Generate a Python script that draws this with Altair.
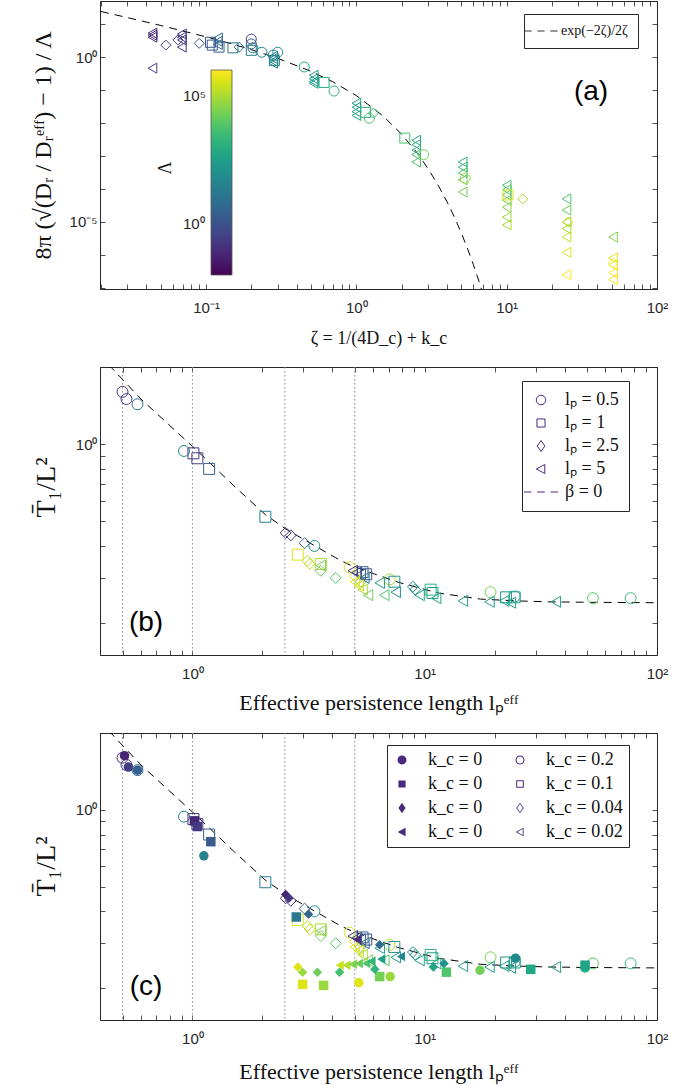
import altair as alt
import pandas as pd

# ---------------- Panel (a): rescaled rotational diffusion vs zeta ----------------
a_zeta = [0.044, 0.044, 0.044, 0.044, 0.054, 0.069, 0.069, 0.069, 0.069, 0.065,
          0.09, 0.107, 0.110, 0.12, 0.12, 0.12, 0.122, 0.151, 0.166, 0.20,
          0.20, 0.205, 0.20, 0.235, 0.30, 0.28, 0.28, 0.28, 0.28, 0.28,
          0.285, 0.45, 0.52, 0.52, 0.52, 0.52, 0.61, 0.71, 1.0, 1.0,
          1.0, 1.0, 1.15, 1.22, 1.3, 2.1, 2.5, 2.5, 2.5, 2.5,
          2.5, 2.8, 5.1, 5.1, 5.1, 5.1, 5.1, 5.3, 10, 10,
          10, 10, 10, 10, 10, 10.2, 12.8, 25, 25, 25,
          25, 25, 25, 25, 25.5, 51, 51, 51, 51, 51, 51]
a_value = [5.3, 4.6, 4.0, 0.46, 2.3, 5.0, 4.0, 3.3, 2.0, 3.3,
           2.6, 2.8, 2.3, 3.8, 3.0, 2.4, 2.0, 1.9, 2.0, 3.5,
           2.5, 1.9, 1.6, 1.4, 1.4, 1.15, 1.05, 0.9, 0.75, 0.65,
           0.78, 0.5, 0.28, 0.22, 0.18, 0.16, 0.17, 0.093, 0.04, 0.03,
           0.022, 0.017, 0.021, 0.014, 0.02, 0.0035, 0.003, 0.0022, 0.0015, 0.0011,
           6.6e-4, 1.1e-3, 6.6e-4, 4.6e-4, 3.1e-4, 1.9e-4, 8.1e-5, 2.1e-4, 1.3e-4, 9.5e-5,
           6.6e-5, 4.6e-5, 2.8e-5, 1.4e-5, 8.1e-6, 6.6e-5, 5.0e-5, 5.0e-5, 2.3e-5, 1.0e-5,
           6.3e-6, 3.5e-6, 1.2e-6, 2.5e-7, 1.0e-5, 3.5e-6, 8.1e-7, 5.0e-7, 2.9e-7, 1.8e-7, 5.6e-7]
a_log_lambda = [-1.3, -1.1, -0.9, -0.4, -0.6, -0.8, -0.6, -0.4, -0.9, -0.3,
                0.0, 0.0, 0.3, 0.9, 0.7, 0.5, 0.6, 1.0, 1.2, -0.5,
                0.4, 1.2, 1.3, 1.6, 2.0, 1.8, 1.7, 1.6, 1.7, 1.8,
                1.6, 2.7, 2.2, 2.3, 2.4, 2.5, 2.9, 3.3, 2.5, 2.6,
                2.7, 2.8, 3.3, 3.7, 3.4, 3.7, 2.8, 3.0, 3.2, 3.5,
                3.8, 4.3, 3.2, 3.5, 3.8, 4.0, 4.3, 4.9, 3.6, 3.9,
                4.1, 4.3, 4.6, 4.8, 5.0, 5.6, 5.0, 3.8, 4.2, 4.6,
                4.9, 5.3, 5.6, 6.0, 5.6, 4.5, 5.6, 5.8, 5.9, 6.0, 5.9]
a_lp = ["5", "5", "5", "5", "2.5", "5", "5", "5", "5", "2.5",
        "2.5", "1", "1", "5", "5", "5", "1", "1", "2.5", "0.5",
        "0.5", "0.5", "1", "0.5", "0.5", "0.5", "5", "5", "5", "5",
        "1", "0.5", "5", "5", "5", "5", "1", "0.5", "5", "5",
        "5", "5", "1", "0.5", "2.5", "1", "5", "5", "5", "5",
        "5", "0.5", "5", "5", "5", "5", "5", "0.5", "5", "5",
        "5", "5", "5", "5", "5", "1", "2.5", "5", "5", "5",
        "5", "5", "5", "5", "2.5", "5", "5", "5", "5", "5", "2.5"]

# reference curve exp(-2 zeta)/(2 zeta)
a_curve_zeta = [0.02, 0.03, 0.05, 0.1, 0.15, 0.2, 0.3, 0.5, 0.7, 1.0, 1.5, 2.0,
                2.5, 3.0, 3.5, 4.0, 4.5, 5.0, 5.5, 6.0, 6.5, 7.0]
a_curve_value = [24.02, 15.70, 9.048, 4.094, 2.469, 1.676, 0.9147, 0.3679, 0.1761,
                 0.06767, 0.0166, 0.004579, 0.0013476, 4.131e-4, 1.303e-4, 4.193e-5,
                 1.371e-5, 4.54e-6, 1.519e-6, 5.12e-7, 1.739e-7, 5.94e-8]

# ---------------- Panels (b)/(c): open markers (k_c > 0) ----------------
b_circle_x = [0.50, 0.52, 0.58, 0.92, 3.35, 4.75, 7.06, 19.2, 24.4, 53, 77]
b_circle_y = [1.6, 1.5, 1.43, 0.94, 0.40, 0.33, 0.296, 0.264, 0.254, 0.25, 0.25]
b_circle_l = [-1.0, -0.5, 0.7, 1.5, 2.2, 5.5, 5.0, 4.4, 2.5, 4.0, 3.4]

b_square_x = [1.01, 1.05, 1.18, 2.06, 2.84, 3.57, 5.4, 5.6, 7.4, 10.8, 10.6, 22.4, 24.4]
b_square_y = [0.92, 0.88, 0.80, 0.52, 0.37, 0.34, 0.316, 0.31, 0.29, 0.262, 0.27, 0.252, 0.252]
b_square_l = [-0.8, -0.6, 0.4, 1.4, 5.6, 5.0, 0.5, 0.0, 2.0, 2.5, 3.0, 2.3, 2.5]

b_diamond_x = [2.52, 2.65, 3.04, 3.13, 3.2, 3.57, 4.14, 5.0, 5.3, 8.9, 9.1]
b_diamond_y = [0.45, 0.44, 0.41, 0.35, 0.34, 0.32, 0.30, 0.305, 0.29, 0.277, 0.27]
b_diamond_l = [-1.0, -0.8, 0.5, 5.2, 5.3, 4.2, 3.8, 5.7, 4.5, 1.8, 2.3]

b_tri_x = [3.57, 4.9, 5.1, 5.3, 5.5, 5.0, 5.2, 5.4, 5.7, 6.4, 6.7, 7.5, 9.5, 11.2,
           14.6, 19, 22, 23.5, 36.7]
b_tri_y = [0.335, 0.32, 0.315, 0.31, 0.30, 0.29, 0.28, 0.27, 0.257, 0.287, 0.257, 0.264,
           0.257, 0.25, 0.244, 0.242, 0.244, 0.24, 0.242]
b_tri_l = [4.5, -0.8, -0.3, 0.2, 1.0, 5.8, 5.5, 5.0, 4.3, 2.5, 3.8, 2.2, 2.6, 2.7,
           2.5, 2.4, 2.6, 2.3, 2.5]

# ---------------- Panel (c): filled markers (k_c = 0) ----------------
c_circle_x = [0.51, 0.53, 0.58, 1.12, 5.2, 7.1, 17.3, 24.6, 49]
c_circle_y = [1.63, 1.47, 1.43, 0.66, 0.21, 0.222, 0.235, 0.262, 0.24]
c_circle_l = [-1.2, -0.6, 0.4, 1.5, 5.6, 4.8, 4.3, 1.8, 3.0]

c_square_x = [1.02, 1.05, 1.2, 2.8, 2.98, 3.67, 6.4, 12.4, 28.6, 49]
c_square_y = [0.905, 0.86, 0.75, 0.38, 0.207, 0.205, 0.222, 0.231, 0.237, 0.246]
c_square_l = [-1.2, -0.7, 0.3, 1.2, 5.6, 4.8, 4.3, 3.8, 2.8, 2.7]

c_diamond_x = [2.52, 2.6, 3.16, 2.84, 2.98, 3.45, 4.3, 6.1, 6.4, 10.9, 12.1]
c_diamond_y = [0.466, 0.45, 0.39, 0.242, 0.231, 0.231, 0.231, 0.237, 0.296, 0.242, 0.25]
c_diamond_l = [-1.2, -0.8, 0.6, 5.6, 4.8, 4.2, 3.6, 3.2, 0.8, 2.7, 2.1]

c_tri_x = [4.3, 4.6, 4.9, 5.2, 5.6, 5.9, 6.5, 7.9, 5.1]
c_tri_y = [0.246, 0.246, 0.248, 0.25, 0.25, 0.255, 0.26, 0.266, 0.31]
c_tri_l = [5.4, 5.1, 4.5, 4.2, 3.8, 3.3, 2.5, 1.6, -1.0]

# beta = 0 reference curve
bc_curve_x = [0.40, 0.45, 0.6, 0.8, 1.0, 1.18, 1.5, 2.06, 2.53, 3.0, 4.13, 4.66, 6.0,
              7.65, 11.4, 17.4, 25, 34, 50, 100]
bc_curve_y = [2.25, 1.98, 1.5, 1.18, 0.98, 0.85, 0.69, 0.53, 0.465, 0.425, 0.36, 0.34,
              0.312, 0.289, 0.262, 0.248, 0.244, 0.242, 0.241, 0.24]

bc_guides = [0.5, 1, 2.5, 5]

# ---------------- style ----------------
SERIF = "Liberation Serif"
SANS = "Liberation Sans"
AX = "#262626"
PURPLE = "#4b2a7e"
W = 557

# legend symbol paths
LEFT = "M-5,0L-4.98,0"   # hair-thin lead-in so all (c) legend entries share the same left extent
DASH_A = "M-3.5,0L-1.95,0M-0.75,0L0.75,0M1.95,0L3.5,0"
DASH_B = "M-3.6,0L-2.0,0M-0.8,0L0.8,0M2.0,0L3.6,0"
P_CIRCLE = "M1,0A1,1,0,1,1,-1,0A1,1,0,1,1,1,0Z"
P_CIRCLE_RING = P_CIRCLE + "M0.78,0A0.78,0.78,0,1,0,-0.78,0A0.78,0.78,0,1,0,0.78,0Z"
P_SQUARE = "M-0.8,-0.8L0.8,-0.8L0.8,0.8L-0.8,0.8Z"
P_SQUARE_OPEN = "M-0.85,-0.85L0.85,-0.85L0.85,0.85L-0.85,0.85Z"
P_SQUARE_RING = P_SQUARE_OPEN + "M-0.63,-0.63L-0.63,0.63L0.63,0.63L0.63,-0.63Z"
P_DIAMOND = "M0,-1.15L0.8,0L0,1.15L-0.8,0Z"
P_DIAMOND_RING = "M0,-1.2L0.85,0L0,1.2L-0.85,0ZM0,-0.9L-0.62,0L0,0.9L0.62,0Z"
P_TRI = "M-1,0L0.8,-0.95L0.8,0.95Z"
P_TRI_RING = P_TRI + "M-0.62,0L0.6,0.66L0.6,-0.66Z"

XA = alt.Scale(type="log", domain=[0.0197, 100], nice=False)
YA = alt.Scale(type="log", domain=[9.3e-8, 50], nice=False)
XB = alt.Scale(type="log", domain=[0.4, 100], nice=False)
YB = alt.Scale(type="log", domain=[0.15, 2.0], nice=False)
COLOR = alt.Scale(type="log", scheme="viridis", domain=[0.01, 1e6])

XA_TICKS = [m * 10.0 ** e for e in (-2, -1, 0, 1) for m in range(1, 10)][1:] + [100]
YA_TICKS = [10.0 ** e for e in range(-7, 2)]
XB_TICKS = [m * 10.0 ** e for e in (-1, 0, 1) for m in range(1, 10)][3:] + [100]
YB_TICKS = [0.2, 0.3, 0.4, 0.5, 0.6, 0.7, 0.8, 0.9, 1.0, 2.0]
BASIC = ["circle", "square", "diamond", "triangle-left"]


def main_x(values, expr, title, title_y, size):
    return alt.Axis(values=values, labelExpr=expr, ticks=False, domain=False, grid=False,
                    labelFont=SANS, labelFontSize=15, labelColor=AX, labelPadding=11,
                    labelFlush=False, labelOverlap=False, minExtent=0,
                    title=title, titleFont=SERIF, titleFontSize=size, titleFontWeight="normal",
                    titleColor="#111111", titleY=title_y, titleBaseline="alphabetic",
                    titleAlign="center")


def main_y(values, expr, title, title_x, size, title_y=None):
    kw = dict(values=values, labelExpr=expr, ticks=False, domain=False, grid=False,
              labelFont=SANS, labelFontSize=15, labelColor=AX, labelPadding=3,
              labelFlush=False, labelOverlap=False, minExtent=0,
              title=title, titleFont=SERIF, titleFontSize=size, titleFontWeight="normal",
              titleColor="#111111", titleX=title_x, titleBaseline="middle", titleAlign="center")
    if title_y is not None:
        kw["titleY"] = title_y
    return alt.Axis(**kw)


def tick_axis(orient, values):
    return alt.Axis(orient=orient, values=values, labels=False, domain=False, grid=False,
                    ticks=True, tickSize=5, tickColor=AX, tickWidth=0.8, offset=-5,
                    minExtent=0, maxExtent=5, title=None)


def pts_frame(xs, ys, ls, key):
    return pd.DataFrame({"x": xs, "y": ys, "lam": [10.0 ** v for v in ls], "key": [key] * len(xs)})


def legend_layer(keys, paths, filled, color, **legend_kw):
    mark = dict(filled=filled, opacity=0)
    if filled:
        mark.update(fill=color, strokeWidth=0)
    else:
        mark.update(stroke=color, strokeWidth=1)
    sym = dict(symbolOpacity=1)
    if filled:
        sym.update(symbolFillColor=color, symbolStrokeWidth=0)
    else:
        sym.update(symbolStrokeColor=color, symbolStrokeWidth=1)
    return alt.Chart(pd.DataFrame({"key": keys})).mark_point(**mark).encode(
        shape=alt.Shape("key:N", scale=alt.Scale(domain=keys, range=paths),
                        legend=alt.Legend(orient="none", title=None, strokeColor=AX,
                                          fillColor="white", symbolOffset=0,
                                          **sym, **legend_kw)))


# ======================= Panel (a) =======================
A_KEYS = ["lₚ = 0.5", "lₚ = 1", "lₚ = 2.5", "lₚ = 5"]
a_df = pd.DataFrame({"x": a_zeta, "y": a_value,
                     "lam": [10.0 ** v for v in a_log_lambda],
                     "key": ["lₚ = " + v for v in a_lp]})
a_curve_df = pd.DataFrame({"x": a_curve_zeta, "y": a_curve_value})

a_curve = alt.Chart(a_curve_df).mark_line(color="black", strokeWidth=1, strokeDash=[8, 6], clip=True).encode(
    x=alt.X("x:Q", scale=XA, axis=main_x([0.1, 1, 10, 100],
            "datum.value < 0.5 ? '10⁻¹' : datum.value < 5 ? '10⁰' : datum.value < 50 ? '10¹' : '10²'",
            "ζ = 1/(4D_c) + k_c", 54, 18)),
    y=alt.Y("y:Q", scale=YA, axis=main_y([1e-5, 1], "datum.value < 0.01 ? '10⁻⁵' : '10⁰'",
            "8π (√(Dᵣ / Dᵣᵉᶠᶠ) − 1) / Λ", -57, 24)),
)
a_ghost = alt.Chart(a_curve_df).mark_line(strokeOpacity=0, clip=True).encode(
    x=alt.X("x:Q", scale=XA, axis=tick_axis("top", XA_TICKS)),
    y=alt.Y("y:Q", scale=YA, axis=tick_axis("right", YA_TICKS)),
)
a_pts = alt.Chart(a_df).mark_point(filled=False, size=100, strokeWidth=1, opacity=1, clip=True).encode(
    x=alt.X("x:Q", scale=XA, axis=tick_axis("bottom", XA_TICKS)),
    y=alt.Y("y:Q", scale=YA, axis=tick_axis("left", YA_TICKS)),
    color=alt.Color("lam:Q", scale=COLOR, legend=alt.Legend(
        orient="none", legendX=111, legendY=69, direction="vertical", title=None,
        gradientLength=205, gradientThickness=21, gradientStrokeColor="#555555",
        gradientStrokeWidth=0.8, values=[1, 100000],
        labelExpr="datum.value > 10 ? '10⁵' : '10⁰'", labelFont=SANS, labelFontSize=15,
        labelColor=AX, labelOffset=alt.ExprRef(expr="-49"), padding=0)),
    shape=alt.Shape("key:N", scale=alt.Scale(domain=A_KEYS, range=BASIC), legend=None),
)
a_leg = legend_layer(["exp(−2ζ)/2ζ"], [DASH_A], False, "#333333",
                     legendX=424, legendY=13, labelFont=SERIF, labelFontSize=14,
                     labelColor="#111111", symbolSize=90, labelOffset=13, padding=10)
a_text = alt.Chart(pd.DataFrame({"t": ["(a)"]})).mark_text(
    font=SANS, fontSize=28, color="black").encode(
    x=alt.value(491), y=alt.value(91), text="t:N")
a_lam = alt.Chart(pd.DataFrame({"t": ["Λ"]})).mark_text(
    font=SERIF, fontSize=18, color="#111111", angle=270).encode(
    x=alt.value(66), y=alt.value(167), text="t:N")

panel_a = alt.layer(a_curve, a_ghost, a_pts, a_leg, a_text, a_lam).resolve_axis(
    x="independent", y="independent").resolve_scale(shape="independent").properties(width=W, height=288)

# ======================= Panel (b) =======================
B_KEYS = ["lₚ = 0.5", "lₚ = 1", "lₚ = 2.5", "lₚ = 5"]
open_df = pd.concat([
    pts_frame(b_circle_x, b_circle_y, b_circle_l, "0.5"),
    pts_frame(b_square_x, b_square_y, b_square_l, "1"),
    pts_frame(b_diamond_x, b_diamond_y, b_diamond_l, "2.5"),
    pts_frame(b_tri_x, b_tri_y, b_tri_l, "5"),
], ignore_index=True)
b_df = open_df.assign(key=["lₚ = " + k for k in open_df["key"]])
curve_df = pd.DataFrame({"x": bc_curve_x, "y": bc_curve_y})
guide_df = pd.DataFrame({"x": bc_guides})

X_EXPR = "datum.value < 5 ? '10⁰' : datum.value < 50 ? '10¹' : '10²'"
X_TITLE = "Effective persistence length  lₚᵉᶠᶠ"
Y_TITLE = "T̄₁/L²"


def guides(xs):
    return alt.Chart(guide_df).mark_rule(color="#8a8a8a", strokeWidth=1, strokeDash=[1.5, 2.5]).encode(
        x=alt.X("x:Q", scale=xs, axis=None))


def curve(ys, tx_y, ty_y):
    return alt.Chart(curve_df).mark_line(color="black", strokeWidth=1, strokeDash=[8, 6], clip=True).encode(
        x=alt.X("x:Q", scale=XB, axis=main_x([1, 10, 100], X_EXPR, X_TITLE, tx_y, 22)),
        y=alt.Y("y:Q", scale=ys, axis=main_y([1], "'10⁰'", Y_TITLE, -54, 28, ty_y)),
    )


def ghost(ys):
    return alt.Chart(curve_df).mark_line(strokeOpacity=0, clip=True).encode(
        x=alt.X("x:Q", scale=XB, axis=tick_axis("top", XB_TICKS)),
        y=alt.Y("y:Q", scale=ys, axis=tick_axis("right", YB_TICKS)),
    )


b_pts = alt.Chart(b_df).mark_point(filled=False, size=120, strokeWidth=1, opacity=1, clip=True).encode(
    x=alt.X("x:Q", scale=XB, axis=tick_axis("bottom", XB_TICKS)),
    y=alt.Y("y:Q", scale=YB, axis=tick_axis("left", YB_TICKS)),
    color=alt.Color("lam:Q", scale=COLOR, legend=None),
    shape=alt.Shape("key:N", scale=alt.Scale(domain=B_KEYS, range=BASIC), legend=None),
)
b_leg = legend_layer(
    B_KEYS + ["β = 0"],
    [P_CIRCLE, P_SQUARE_OPEN, P_DIAMOND, P_TRI, DASH_B],
    False, PURPLE,
    legendX=422, legendY=14, labelFont=SERIF, labelFontSize=18, labelColor="#111111",
    symbolSize=90, labelOffset=15, padding=10, rowPadding=5)
b_text = alt.Chart(pd.DataFrame({"t": ["(b)"]})).mark_text(
    font=SANS, fontSize=28, color="black").encode(x=alt.value(46), y=alt.value(256), text="t:N")

panel_b = alt.layer(guides(XB), curve(YB, 54, 120), ghost(YB), b_pts, b_leg, b_text).resolve_axis(
    x="independent", y="independent").resolve_scale(shape="independent").properties(width=W, height=288)

# ======================= Panel (c) =======================
C_OPEN_KEYS = ["k_c = 0.2", "k_c = 0.1", "k_c = 0.04", "k_c = 0.02"]
C_FILL_KEYS = ["k_c = 0|c", "k_c = 0|s", "k_c = 0|d", "k_c = 0|t"]
C_KEYS = C_FILL_KEYS + C_OPEN_KEYS
C_LEGEND_SHAPES = [LEFT + p for p in (P_CIRCLE, P_SQUARE, P_DIAMOND, P_TRI,
                                      P_CIRCLE_RING, P_SQUARE_RING, P_DIAMOND_RING, P_TRI_RING)]
open_map = dict(zip(["0.5", "1", "2.5", "5"], C_OPEN_KEYS))
c_open_df = open_df.assign(key=[open_map[k] for k in open_df["key"]])
c_fill_df = pd.concat([
    pts_frame(c_circle_x, c_circle_y, c_circle_l, C_FILL_KEYS[0]),
    pts_frame(c_square_x, c_square_y, c_square_l, C_FILL_KEYS[1]),
    pts_frame(c_diamond_x, c_diamond_y, c_diamond_l, C_FILL_KEYS[2]),
    pts_frame(c_tri_x, c_tri_y, c_tri_l, C_FILL_KEYS[3]),
], ignore_index=True)

c_open = alt.Chart(c_open_df).mark_point(filled=False, size=120, strokeWidth=1, opacity=1, clip=True).encode(
    x=alt.X("x:Q", scale=XB, axis=tick_axis("bottom", XB_TICKS)),
    y=alt.Y("y:Q", scale=YB, axis=tick_axis("left", YB_TICKS)),
    color=alt.Color("lam:Q", scale=COLOR, legend=None),
    shape=alt.Shape("key:N", scale=alt.Scale(domain=C_OPEN_KEYS, range=BASIC), legend=None),
)
c_filled = alt.Chart(c_fill_df).mark_point(filled=True, size=90, opacity=1, clip=True).encode(
    x=alt.X("x:Q", scale=XB, axis=None),
    y=alt.Y("y:Q", scale=YB, axis=None),
    color=alt.Color("lam:Q", scale=COLOR, legend=None),
    shape=alt.Shape("key:N", scale=alt.Scale(domain=C_FILL_KEYS, range=BASIC), legend=None),
)
c_leg = legend_layer(
    C_KEYS, C_LEGEND_SHAPES, True, PURPLE,
    legendX=287, legendY=12, columns=2, columnPadding=14,
    labelFont=SERIF, labelFontSize=18, labelColor="#111111",
    labelExpr="split(datum.label, '|')[0]",
    symbolSize=80, labelOffset=17, padding=6, rowPadding=6)
c_text = alt.Chart(pd.DataFrame({"t": ["(c)"]})).mark_text(
    font=SANS, fontSize=28, color="black").encode(x=alt.value(46), y=alt.value(254), text="t:N")

panel_c = alt.layer(guides(XB), curve(YB, 58, 133), ghost(YB), c_open, c_filled, c_leg, c_text).resolve_axis(
    x="independent", y="independent").resolve_scale(shape="independent").properties(width=W, height=287)

chart = alt.vconcat(panel_a, panel_b, panel_c, spacing=78, bounds="flush").resolve_scale(
    color="independent", shape="independent"
).resolve_legend(
    color="independent", shape="independent"
).properties(
    padding={"left": 30, "top": 0, "right": 10, "bottom": 8}
).configure_view(stroke=AX, strokeWidth=1)

chart.save("out.html", embed_options={"renderer": "svg", "actions": False})
